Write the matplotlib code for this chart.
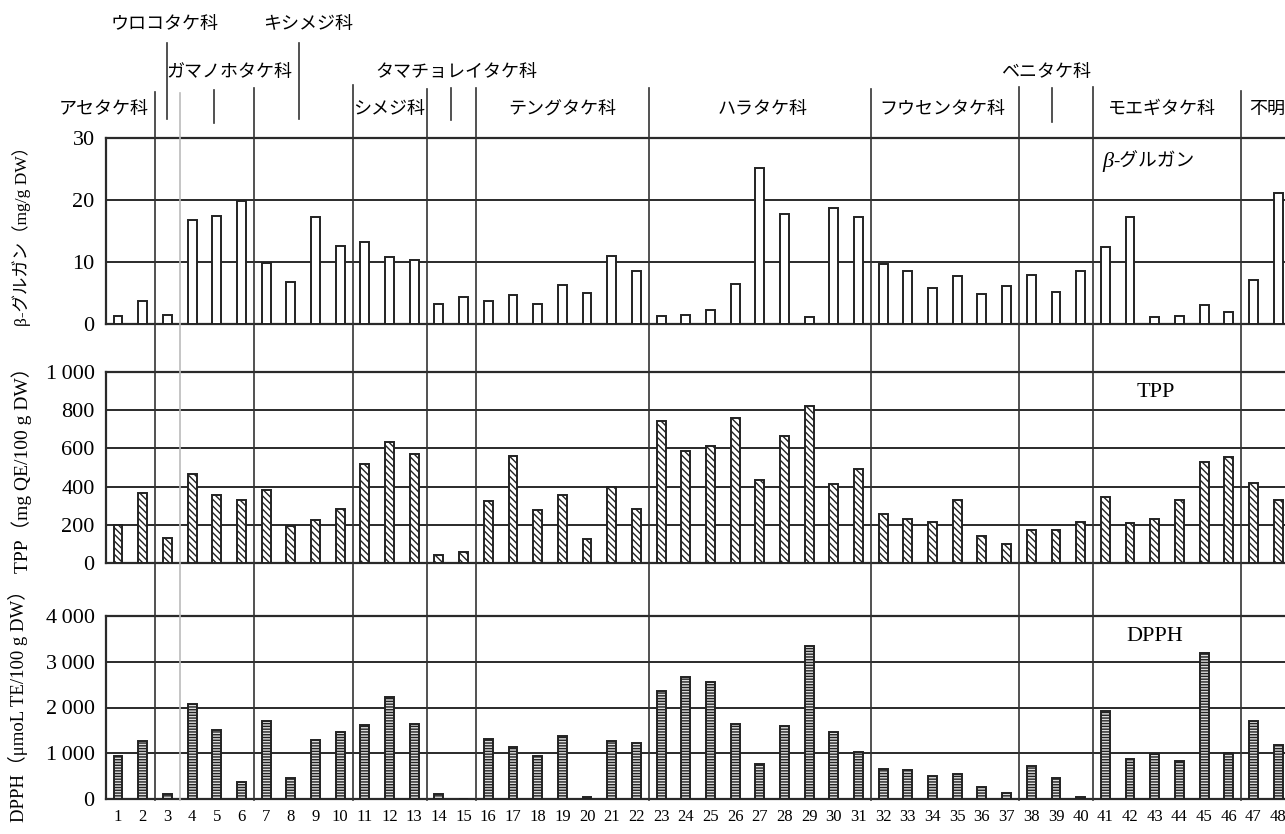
import matplotlib.pyplot as plt
import numpy as np

plt.rcParams['font.family'] = ['Liberation Serif', 'Noto Sans CJK JP', 'DejaVu Sans']
plt.rcParams['hatch.linewidth'] = 1.0

# data (sample no. 1-48)
samples = np.arange(1, 49)
glucan = [1.3, 3.7, 1.4, 16.7, 17.5, 19.9, 9.9, 6.8, 17.3, 12.6,
          13.2, 10.8, 10.3, 3.3, 4.3, 3.7, 4.6, 3.3, 6.3, 5.0,
          10.9, 8.6, 1.3, 1.5, 2.3, 6.4, 25.1, 17.7, 1.2, 18.7,
          17.3, 9.6, 8.5, 5.8, 7.7, 4.8, 6.1, 7.9, 5.2, 8.5,
          12.5, 17.2, 1.1, 1.3, 3.0, 1.9, 7.1, 21.1]
tpp = [197, 368, 131, 468, 356, 328, 382, 194, 227, 284,
       520, 634, 572, 44, 59, 325, 560, 279, 358, 124,
       398, 283, 745, 585, 611, 761, 436, 665, 822, 412,
       492, 257, 230, 215, 330, 140, 99, 173, 171, 216,
       347, 209, 230, 332, 527, 553, 419, 330]
dpph = [940, 1278, 102, 2083, 1517, 363, 1713, 450, 1299, 1474,
        1619, 2236, 1648, 116, 0, 1321, 1140, 936, 1379, 36,
        1270, 1234, 2367, 2664, 2548, 1641, 770, 1604, 3347, 1466,
        1038, 661, 632, 508, 552, 261, 138, 726, 457, 36,
        1931, 864, 987, 820, 3194, 1009, 1699, 1183]

# family groups
group_bounds = [2.5, 3.5, 6.5, 10.5, 13.5, 15.5, 22.5, 31.5, 37.5, 40.5, 46.5]
pointer_x = [3.0, 8.35, 4.9, 14.5, 38.85]
family_top = ['ウロコタケ科', 'キシメジ科']
family_mid = ['ガマノホタケ科', 'タマチョレイタケ科', 'ベニタケ科']
family_low = ['アセタケ科', 'シメジ科', 'テングタケ科', 'ハラタケ科',
              'フウセンタケ科', 'モエギタケ科', '不明']

W, H = 1285, 834
fig = plt.figure(figsize=(W / 100, H / 100), dpi=100)

xlim = (0.5, 48.4)
left = 105.7 / W
width = (1288 - 105.7) / W


def px_rect(top, bottom):
    return [left, 1 - bottom / H, width, (bottom - top) / H]


ax1 = fig.add_axes(px_rect(138, 324))
ax2 = fig.add_axes(px_rect(372, 563))
ax3 = fig.add_axes(px_rect(616, 799))

panels = [
    (ax1, glucan, 30, [0, 10, 20, 30], ['0', '10', '20', '30'], 'white', None),
    (ax2, tpp, 1000, [0, 200, 400, 600, 800, 1000],
     ['0', '200', '400', '600', '800', '1\u2009000'], 'white', '\\' * 5),
    (ax3, dpph, 4000, [0, 1000, 2000, 3000, 4000],
     ['0', '1\u2009000', '2\u2009000', '3\u2009000', '4\u2009000'], '#dcdcdc', '-' * 6),
]

for ax, vals, top, ticks, tlabels, fc, hatch in panels:
    ax.bar(samples, vals, width=0.36, facecolor=fc, edgecolor='#222222',
           linewidth=1.4, hatch=hatch, zorder=3)
    ax.set_xlim(xlim)
    ax.set_ylim(0, top)
    ax.set_yticks(ticks)
    ax.set_yticklabels(tlabels, fontsize=16)
    ax.grid(axis='y', color='#2a2a2a', linewidth=1.4)
    ax.set_axisbelow(True)
    ax.spines['right'].set_visible(False)
    for s in ['left', 'top', 'bottom']:
        ax.spines[s].set_color('#2a2a2a')
        ax.spines[s].set_linewidth(1.6)
    ax.tick_params(length=0, pad=8)
    ax.patch.set_alpha(0)

ax1.set_xticks([])
ax2.set_xticks([])
ax3.set_xticks(samples)
ax3.set_xticklabels([str(i) for i in samples], fontsize=12)
ax3.tick_params(axis='x', pad=7)

# series names inside the panels
ax1.text(40.87, 26.1, 'β', fontsize=16, style='italic', va='center', ha='left')
ax1.text(41.3, 26.1, '-グルガン', fontsize=13.5, va='center', ha='left')
ax2.text(43.06, 895, 'TPP', fontsize=16, va='center', ha='center')
ax3.text(43.0, 3541, 'DPPH', fontsize=16, va='center', ha='center')

# y labels
fig.text(22 / W, 1 - 232 / H, 'β-グルガン（mg/g DW）', rotation=90,
         fontsize=12.5, ha='center', va='center')
fig.text(22 / W, 1 - 465 / H, 'TPP（mg QE/100 g DW）', rotation=90,
         fontsize=14, ha='center', va='center')
fig.text(18 / W, 1 - 702 / H, 'DPPH（μmoL TE/100 g DW）', rotation=90,
         fontsize=13.5, ha='center', va='center')

# overlay for family separators and names (y in pixels)
ov = fig.add_axes([left, 0, width, 1])
ov.set_xlim(xlim)
ov.set_ylim(H, 0)
ov.axis('off')

line_tops = [92, 93, 88, 85, 89, 88, 88, 89, 87, 87, 91]
for xb, yt in zip(group_bounds, line_tops):
    col = '#bbbbbb' if xb == 3.5 else '#333333'
    ov.plot([xb, xb], [yt, 800], color=col, linewidth=1.2)

pointer_spans = [(43, 119), (43, 119), (90, 123), (88, 120), (88, 122)]
for xp, (y0, y1) in zip(pointer_x, pointer_spans):
    ov.plot([xp, xp], [y0, y1], color='#333333', linewidth=1.2)

top_pos = [2.9, 8.7]
mid_pos = [5.5, 14.7, 38.6]
low_pos = [0.41, 12.0, 19.0, 27.1, 34.4, 43.3, 47.55]
for names, xs, ypx in [(family_top, top_pos, 24), (family_mid, mid_pos, 72),
                       (family_low, low_pos, 109)]:
    for name, xx in zip(names, xs):
        ov.text(xx, ypx, name, fontsize=13, ha='center', va='center')

plt.savefig('out.png', dpi=100)
